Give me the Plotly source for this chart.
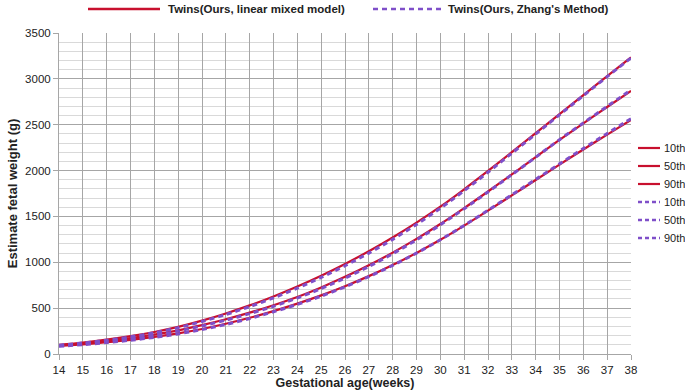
import plotly.graph_objects as go

weeks = list(range(14, 39))

# Linear mixed model (solid)
lmm_p10 = [88, 106, 128, 154, 186, 225, 273, 330, 395, 468, 549, 639, 739, 849, 970, 1102,
           1245, 1400, 1563, 1729, 1897, 2065, 2230, 2392, 2552]
lmm_p50 = [95, 117, 143, 174, 212, 258, 315, 379, 451, 532, 622, 726, 841, 967, 1105, 1255,
           1417, 1591, 1772, 1958, 2146, 2335, 2515, 2693, 2869]
lmm_p90 = [100, 125, 156, 194, 240, 296, 364, 442, 530, 628, 736, 854, 982, 1120, 1270, 1432,
           1606, 1796, 1996, 2201, 2408, 2616, 2823, 3029, 3234]

# Zhang's method (dashed)
zh_p10 = [84, 102, 124, 150, 181, 219, 266, 322, 387, 460, 541, 631, 732, 843, 966, 1100,
          1245, 1402, 1567, 1735, 1904, 2073, 2240, 2404, 2566]
zh_p50 = [91, 112, 138, 168, 205, 250, 306, 369, 440, 520, 610, 713, 828, 954, 1093, 1244,
          1408, 1584, 1767, 1955, 2145, 2337, 2519, 2700, 2879]
zh_p90 = [95, 120, 150, 187, 232, 287, 354, 430, 516, 612, 718, 835, 962, 1100, 1250, 1413,
          1589, 1780, 1982, 2189, 2398, 2608, 2817, 3024, 3228]

y_ticks = [0, 500, 1000, 1500, 2000, 2500, 3000, 3500]
percentile_labels = ["10th", "50th", "90th"]
method_labels = ["Twins(Ours, linear mixed model)", "Twins(Ours, Zhang's Method)"]

RED = "#C8102E"
PURPLE = "#7F4FC9"
DASH = "5px,4px"
FONT = "Liberation Sans, Arial, sans-serif"

W, H = 685, 392
# plot area in window pixels
PX0, PX1, PY0, PY1 = 59, 631, 33, 354
L, R, T, B = PX0, W - PX1, PY0, H - PY1
PW, PH = PX1 - PX0, PY1 - PY0


def px_x(px):
    return (px - PX0) / PW


def px_y(py):
    return (PY1 - py) / PH


fig = go.Figure()

for name, ys in zip(percentile_labels, [lmm_p10, lmm_p50, lmm_p90]):
    fig.add_trace(go.Scatter(x=weeks, y=ys, mode="lines", name=name, showlegend=False,
                             line=dict(color=RED, width=2.2, shape="spline", smoothing=0.8)))
for name, ys in zip(percentile_labels, [zh_p10, zh_p50, zh_p90]):
    fig.add_trace(go.Scatter(x=weeks, y=ys, mode="lines", name=name, showlegend=False,
                             line=dict(color=PURPLE, width=3, dash=DASH, shape="spline", smoothing=0.8)))

shapes = []
annotations = []

# top legend
top_items = [(88, 160, 166, RED, "solid", method_labels[0]),
             (373, 445, 446, PURPLE, DASH, method_labels[1])]
for x0, x1, tx, col, dash, text in top_items:
    shapes.append(dict(type="line", xref="paper", yref="paper",
                       x0=px_x(x0), x1=px_x(x1), y0=px_y(9), y1=px_y(9),
                       line=dict(color=col, width=2.5, dash=dash)))
    annotations.append(dict(xref="paper", yref="paper", x=px_x(tx), y=px_y(9),
                            xanchor="left", yanchor="middle", showarrow=False,
                            text="<b>" + text + "</b>",
                            font=dict(size=11.5, color="#222", family=FONT)))

# right legend
rows = [148, 166, 184, 202, 220, 238]
styles = [(RED, "solid")] * 3 + [(PURPLE, DASH)] * 3
labels = percentile_labels + percentile_labels
for py, (col, dash), text in zip(rows, styles, labels):
    shapes.append(dict(type="line", xref="paper", yref="paper",
                       x0=px_x(638), x1=px_x(660), y0=px_y(py), y1=px_y(py),
                       line=dict(color=col, width=2.2 if dash == "solid" else 2.5,
                                 dash="solid" if dash == "solid" else "4px,3px")))
    annotations.append(dict(xref="paper", yref="paper", x=px_x(662), y=px_y(py),
                            xanchor="left", yanchor="middle", showarrow=False, text=text,
                            font=dict(size=11, color="#222", family=FONT)))

fig.update_layout(
    width=W, height=H,
    margin=dict(l=L, r=R, t=T, b=B, autoexpand=False),
    paper_bgcolor="white", plot_bgcolor="white",
    font=dict(family=FONT, size=11, color="#222"),
    showlegend=False,
    shapes=shapes,
    annotations=annotations,
)

fig.update_xaxes(
    range=[14, 38], tickmode="linear", tick0=14, dtick=1,
    showgrid=True, gridcolor="#a6a6a6", gridwidth=1,
    showline=True, linecolor="#a6a6a6", linewidth=1,
    ticks="outside", ticklen=5, tickcolor="#a6a6a6",
    tickfont=dict(size=11.5, color="#222"),
    title=dict(text="<b>Gestational age(weeks)</b>", font=dict(size=12.5, color="#222"), standoff=3),
    zeroline=False, automargin=False,
)
fig.update_yaxes(
    range=[0, 3500], tickmode="array", tickvals=y_ticks,
    showgrid=True, gridcolor="#a6a6a6", gridwidth=1,
    minor=dict(dtick=100, showgrid=True, gridcolor="#d9d9d9", gridwidth=1),
    showline=True, linecolor="#a6a6a6", linewidth=1,
    ticks="outside", ticklen=5, tickcolor="#a6a6a6",
    tickfont=dict(size=11.5, color="#222"),
    title=dict(text="<b>Estimate fetal weight (g)</b>", font=dict(size=13, color="#222"), standoff=4),
    zeroline=False, automargin=False,
)

fig.write_html("out.html",
               config={"displayModeBar": False},
               post_script="document.body.style.margin='0';document.body.style.overflow='hidden';")
